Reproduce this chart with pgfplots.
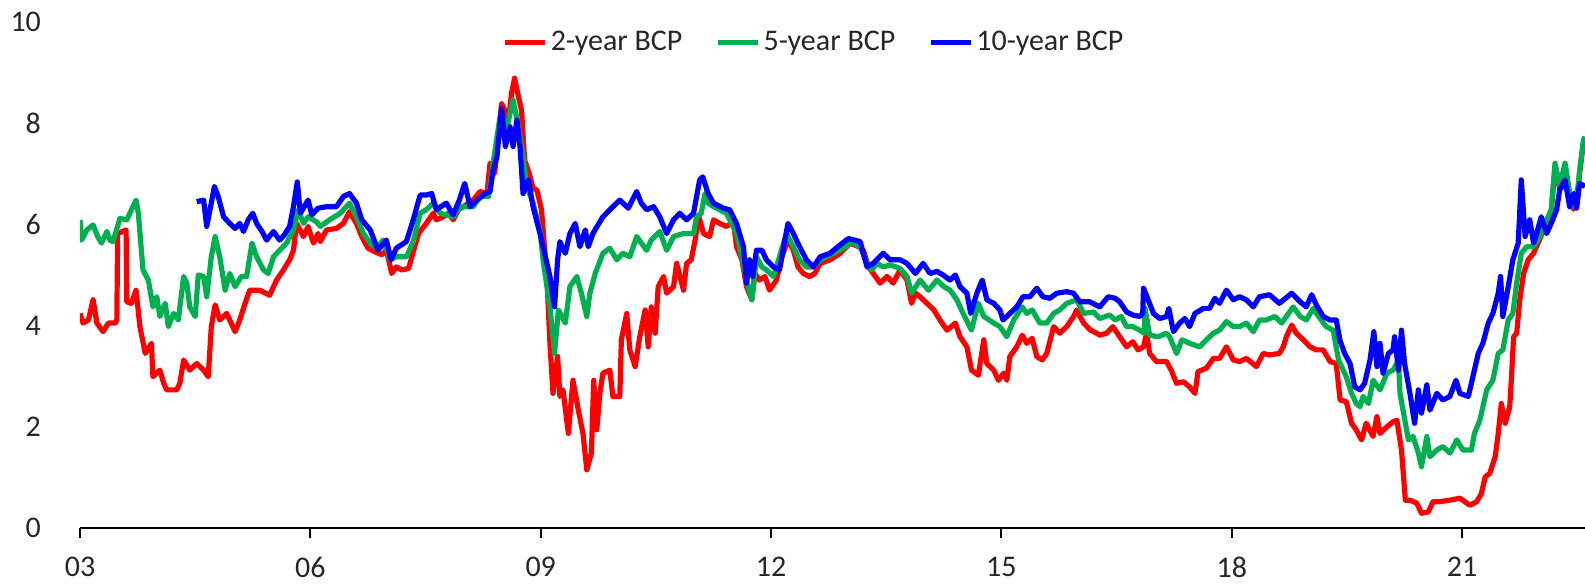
\documentclass[border=0pt]{standalone}
\usepackage{fontspec}
\setmainfont{Carlito}
\usepackage{pgfplots}
\pgfplotsset{compat=1.18}
\definecolor{cred}{RGB}{255,0,0}
\definecolor{cgreen}{RGB}{0,176,80}
\definecolor{cblue}{RGB}{0,0,255}
\begin{document}
\begin{tikzpicture}
\begin{axis}[
 name=ax,
 scale only axis,
 width=752.5pt, height=253pt,
 xmin=2003, xmax=2022.6, ymin=0, ymax=10,
 axis lines*=left,
 axis line style={-},
 y axis line style={draw=none},
 x axis line style={line width=1pt, black},
 xtick={2003,2006,2009,2012,2015,2018,2021},
 xticklabels={03,06,09,12,15,18,21},
 ytick={0,2,4,6,8,10},
 tick align=outside,
 major tick length=5pt,
 xtick style={line width=1pt, black},
 ytick style={draw=none},
 tick label style={font=\fontsize{15}{18}\selectfont, text=black!85},
 /pgf/number format/assume math mode=true,
 yticklabel style={xshift=-11pt},
 xticklabel style={yshift=-6pt},
 legend style={draw=none, fill=none, at={(0.488,0.96)}, anchor=center, legend columns=3,
   font=\fontsize{15}{18}\selectfont, text=black!85, nodes={inner sep=1.5pt},
   /tikz/every even column/.append style={column sep=15pt}},
 legend image code/.code={\draw[#1] (0pt,0pt) -- (20pt,0pt);},
 every axis plot/.append style={line width=2.6pt, line join=round},
]
\addplot[cred] table {
2003.00 4.24
2003.04 4.05
2003.11 4.11
2003.17 4.51
2003.22 4.05
2003.30 3.88
2003.37 4.05
2003.46 4.05
2003.48 4.11
2003.49 5.82
2003.60 5.89
2003.61 4.47
2003.67 4.44
2003.73 4.70
2003.78 3.98
2003.85 3.45
2003.93 3.65
2003.95 2.99
2004.04 3.12
2004.09 2.86
2004.13 2.73
2004.26 2.73
2004.30 2.86
2004.35 3.32
2004.43 3.12
2004.52 3.25
2004.61 3.12
2004.67 2.99
2004.71 3.98
2004.76 4.41
2004.82 4.11
2004.91 4.24
2005.02 3.88
2005.08 4.11
2005.15 4.44
2005.21 4.70
2005.34 4.70
2005.47 4.60
2005.56 4.90
2005.65 5.10
2005.73 5.30
2005.78 5.49
2005.82 6.02
2005.91 5.76
2005.97 5.96
2006.04 5.63
2006.10 5.82
2006.13 5.66
2006.21 5.89
2006.34 5.92
2006.43 6.02
2006.51 6.25
2006.60 6.02
2006.67 5.76
2006.75 5.53
2006.84 5.46
2006.93 5.40
2006.99 5.49
2007.06 5.03
2007.12 5.16
2007.19 5.10
2007.28 5.13
2007.34 5.46
2007.41 5.82
2007.51 6.02
2007.60 6.22
2007.64 6.09
2007.73 6.15
2007.80 6.22
2007.86 6.09
2007.93 6.29
2007.99 6.35
2008.12 6.48
2008.21 6.65
2008.30 6.61
2008.34 7.21
2008.40 7.01
2008.49 8.39
2008.53 8.26
2008.58 8.06
2008.62 8.59
2008.66 8.89
2008.71 8.52
2008.75 8.26
2008.79 7.27
2008.85 7.01
2008.90 6.71
2008.95 6.68
2009.01 6.29
2009.08 4.97
2009.12 3.65
2009.16 2.66
2009.22 3.39
2009.25 2.60
2009.29 2.73
2009.36 1.87
2009.42 2.92
2009.49 2.33
2009.55 1.87
2009.60 1.15
2009.66 1.48
2009.69 2.92
2009.73 1.94
2009.77 2.66
2009.81 3.06
2009.90 3.12
2009.94 2.60
2010.03 2.60
2010.05 3.72
2010.12 4.24
2010.16 3.52
2010.23 3.19
2010.29 3.78
2010.36 4.31
2010.40 3.58
2010.44 4.37
2010.49 3.85
2010.53 4.77
2010.60 4.97
2010.64 4.64
2010.73 4.77
2010.77 5.23
2010.86 4.70
2010.90 5.23
2010.96 5.30
2011.01 5.69
2011.06 6.15
2011.12 5.82
2011.20 5.76
2011.25 6.09
2011.33 6.02
2011.42 5.96
2011.51 6.05
2011.55 5.56
2011.62 5.30
2011.68 4.77
2011.75 4.51
2011.79 5.03
2011.85 4.90
2011.92 4.97
2011.98 4.70
2012.07 4.90
2012.14 5.36
2012.22 5.69
2012.29 5.49
2012.35 5.16
2012.42 5.03
2012.50 4.97
2012.57 5.03
2012.64 5.23
2012.77 5.30
2012.90 5.43
2013.03 5.63
2013.14 5.56
2013.20 5.49
2013.27 5.16
2013.33 5.03
2013.42 4.84
2013.51 4.97
2013.59 4.84
2013.68 5.10
2013.77 4.90
2013.83 4.44
2013.88 4.64
2013.94 4.57
2014.03 4.44
2014.12 4.31
2014.20 4.11
2014.29 3.91
2014.40 4.05
2014.46 3.78
2014.55 3.58
2014.61 3.12
2014.70 3.02
2014.77 3.72
2014.81 3.25
2014.90 3.12
2014.96 2.92
2015.03 3.06
2015.07 2.92
2015.11 3.39
2015.20 3.58
2015.27 3.81
2015.33 3.65
2015.40 3.75
2015.46 3.39
2015.53 3.32
2015.59 3.45
2015.68 3.98
2015.76 3.85
2015.85 3.98
2015.94 4.18
2015.98 4.31
2016.07 4.05
2016.16 3.91
2016.24 3.85
2016.28 3.81
2016.37 3.85
2016.45 3.98
2016.54 3.78
2016.63 3.58
2016.71 3.68
2016.78 3.52
2016.85 3.58
2016.89 3.85
2016.93 3.45
2017.02 3.29
2017.15 3.29
2017.21 3.12
2017.28 2.86
2017.37 2.89
2017.45 2.79
2017.52 2.66
2017.56 3.09
2017.67 3.16
2017.76 3.35
2017.84 3.35
2017.93 3.58
2018.02 3.32
2018.10 3.29
2018.19 3.35
2018.32 3.19
2018.41 3.45
2018.49 3.42
2018.62 3.45
2018.67 3.58
2018.71 3.78
2018.78 4.01
2018.84 3.85
2018.93 3.72
2019.02 3.58
2019.10 3.52
2019.19 3.52
2019.28 3.29
2019.36 3.25
2019.41 2.53
2019.49 2.50
2019.56 2.07
2019.62 1.94
2019.69 1.74
2019.75 2.07
2019.84 1.81
2019.89 2.20
2019.93 1.87
2020.02 2.00
2020.10 2.10
2020.15 2.13
2020.21 1.54
2020.26 0.55
2020.32 0.55
2020.41 0.49
2020.47 0.29
2020.56 0.32
2020.62 0.52
2020.71 0.52
2020.84 0.55
2020.97 0.59
2021.10 0.45
2021.19 0.52
2021.25 0.68
2021.30 1.01
2021.36 1.08
2021.43 1.41
2021.47 1.87
2021.51 2.46
2021.56 2.07
2021.62 2.40
2021.64 2.92
2021.67 3.78
2021.71 3.85
2021.75 4.51
2021.80 5.03
2021.86 5.30
2021.93 5.43
2022.01 5.71
2022.10 6.04
2022.16 6.24
2022.21 7.16
2022.27 6.70
2022.34 7.16
2022.40 6.56
2022.45 6.30
2022.51 6.70
2022.53 7.02
2022.58 7.62
2022.60 7.68
};
\addlegendentry{2-year BCP}
\addplot[cgreen] table {
2003.00 6.09
2003.02 5.69
2003.09 5.89
2003.17 5.99
2003.23 5.76
2003.28 5.63
2003.35 5.86
2003.39 5.69
2003.43 5.66
2003.52 6.12
2003.61 6.09
2003.67 6.29
2003.73 6.48
2003.76 6.22
2003.82 5.10
2003.89 4.90
2003.95 4.37
2004.00 4.57
2004.04 4.18
2004.11 4.44
2004.15 3.98
2004.22 4.24
2004.28 4.11
2004.35 4.97
2004.39 4.84
2004.43 4.37
2004.50 4.18
2004.54 5.00
2004.61 4.97
2004.65 4.57
2004.71 5.36
2004.76 5.76
2004.82 5.36
2004.89 4.70
2004.95 5.03
2005.02 4.77
2005.10 4.97
2005.17 4.97
2005.24 5.63
2005.30 5.36
2005.39 5.10
2005.45 5.03
2005.52 5.36
2005.60 5.49
2005.69 5.63
2005.78 5.89
2005.84 6.29
2005.91 6.02
2005.97 6.15
2006.08 6.05
2006.13 5.96
2006.25 6.09
2006.39 6.22
2006.51 6.42
2006.60 6.15
2006.69 5.82
2006.78 5.63
2006.86 5.53
2006.95 5.69
2007.04 5.30
2007.12 5.36
2007.25 5.36
2007.34 5.66
2007.43 6.22
2007.51 6.29
2007.60 6.42
2007.69 6.22
2007.86 6.15
2007.95 6.35
2008.12 6.35
2008.21 6.55
2008.32 6.55
2008.38 7.21
2008.47 8.13
2008.56 7.93
2008.64 8.46
2008.71 7.93
2008.75 7.54
2008.82 6.75
2008.90 6.42
2008.99 5.89
2009.03 5.30
2009.12 4.37
2009.18 3.45
2009.23 4.31
2009.32 4.05
2009.38 4.77
2009.47 4.97
2009.53 4.64
2009.60 4.18
2009.64 4.64
2009.71 5.03
2009.81 5.43
2009.90 5.53
2009.99 5.30
2010.07 5.43
2010.16 5.36
2010.25 5.76
2010.31 5.63
2010.38 5.49
2010.44 5.69
2010.55 5.86
2010.64 5.49
2010.73 5.76
2010.86 5.82
2010.99 5.82
2011.03 6.15
2011.09 6.22
2011.14 6.61
2011.18 6.42
2011.25 6.35
2011.42 6.22
2011.55 5.82
2011.62 5.36
2011.68 4.90
2011.75 4.51
2011.81 5.36
2011.88 5.16
2011.94 5.10
2012.03 4.97
2012.11 5.36
2012.20 5.82
2012.29 5.56
2012.37 5.30
2012.46 5.16
2012.55 5.16
2012.64 5.30
2012.81 5.43
2012.98 5.56
2013.03 5.66
2013.16 5.56
2013.25 5.23
2013.31 5.10
2013.38 5.23
2013.46 5.16
2013.55 5.20
2013.68 5.13
2013.77 4.97
2013.83 4.64
2013.94 4.90
2014.05 4.70
2014.16 4.90
2014.25 4.77
2014.33 4.70
2014.42 4.51
2014.50 4.24
2014.61 3.91
2014.70 4.44
2014.77 4.18
2014.90 4.05
2014.98 3.98
2015.07 3.78
2015.16 4.11
2015.27 4.37
2015.33 4.24
2015.40 4.31
2015.50 4.05
2015.59 4.05
2015.68 4.24
2015.76 4.31
2015.85 4.44
2015.98 4.51
2016.07 4.24
2016.20 4.27
2016.28 4.14
2016.41 4.21
2016.48 4.11
2016.56 4.18
2016.63 3.98
2016.71 3.98
2016.80 3.91
2016.86 3.85
2016.87 4.34
2016.93 3.81
2017.04 3.78
2017.15 3.85
2017.19 3.78
2017.28 3.45
2017.35 3.72
2017.45 3.65
2017.58 3.58
2017.67 3.72
2017.76 3.85
2017.84 3.91
2017.93 4.08
2018.02 3.98
2018.10 3.98
2018.19 4.05
2018.28 3.88
2018.36 4.11
2018.45 4.11
2018.56 4.18
2018.65 4.05
2018.71 4.18
2018.80 4.37
2018.89 4.18
2018.97 4.11
2019.06 4.34
2019.15 4.14
2019.23 3.98
2019.32 3.91
2019.39 3.32
2019.49 2.99
2019.56 2.66
2019.62 2.46
2019.67 2.40
2019.71 2.60
2019.78 2.46
2019.84 2.92
2019.93 2.73
2020.02 3.06
2020.10 3.12
2020.17 3.32
2020.19 2.66
2020.23 2.33
2020.30 1.74
2020.36 1.81
2020.43 1.48
2020.47 1.21
2020.54 1.81
2020.58 1.41
2020.67 1.54
2020.75 1.61
2020.84 1.48
2020.93 1.74
2021.01 1.54
2021.12 1.54
2021.16 1.87
2021.23 2.13
2021.32 2.73
2021.40 2.92
2021.47 3.45
2021.53 3.52
2021.60 4.11
2021.66 4.24
2021.71 4.84
2021.77 5.43
2021.84 5.56
2021.93 5.56
2022.01 5.76
2022.10 6.09
2022.16 6.29
2022.21 7.21
2022.27 6.75
2022.34 7.21
2022.40 6.61
2022.45 6.35
2022.51 6.75
2022.53 7.07
2022.58 7.67
2022.60 7.73
};
\addlegendentry{5-year BCP}
\addplot[cblue] table {
2004.52 6.45
2004.61 6.48
2004.65 5.96
2004.71 6.42
2004.75 6.75
2004.80 6.55
2004.87 6.15
2004.95 6.02
2005.02 5.92
2005.08 6.02
2005.13 5.86
2005.19 6.09
2005.25 6.22
2005.30 6.02
2005.37 5.86
2005.43 5.69
2005.52 5.86
2005.60 5.69
2005.66 5.79
2005.73 5.96
2005.78 6.35
2005.83 6.84
2005.87 6.22
2005.97 6.48
2006.02 6.19
2006.10 6.32
2006.21 6.35
2006.34 6.35
2006.43 6.55
2006.51 6.61
2006.60 6.42
2006.67 6.09
2006.78 5.89
2006.88 5.49
2006.99 5.69
2007.05 5.30
2007.12 5.53
2007.25 5.66
2007.34 6.09
2007.43 6.58
2007.51 6.58
2007.58 6.61
2007.64 6.29
2007.77 6.42
2007.86 6.19
2007.94 6.48
2008.01 6.81
2008.08 6.35
2008.17 6.48
2008.25 6.58
2008.34 6.65
2008.38 7.07
2008.43 7.34
2008.49 8.29
2008.54 7.54
2008.60 7.93
2008.64 7.54
2008.69 8.06
2008.73 7.54
2008.77 6.61
2008.84 6.88
2008.90 6.35
2008.99 5.82
2009.05 5.43
2009.12 4.97
2009.18 4.37
2009.22 5.30
2009.25 5.66
2009.32 5.43
2009.38 5.82
2009.45 6.02
2009.51 5.56
2009.58 5.89
2009.62 5.56
2009.68 5.82
2009.77 6.05
2009.81 6.15
2009.94 6.35
2010.03 6.48
2010.14 6.32
2010.25 6.65
2010.31 6.42
2010.38 6.29
2010.47 6.35
2010.55 6.15
2010.64 5.82
2010.73 6.09
2010.81 6.22
2010.90 6.09
2010.99 6.22
2011.07 6.88
2011.11 6.94
2011.18 6.61
2011.25 6.42
2011.38 6.32
2011.46 6.29
2011.55 6.02
2011.64 5.56
2011.68 4.84
2011.72 5.30
2011.76 4.97
2011.81 5.49
2011.88 5.49
2011.94 5.30
2012.03 5.16
2012.11 5.10
2012.18 5.69
2012.22 6.02
2012.29 5.82
2012.37 5.56
2012.46 5.30
2012.55 5.16
2012.64 5.36
2012.77 5.43
2012.87 5.56
2012.98 5.69
2013.01 5.72
2013.16 5.66
2013.25 5.16
2013.33 5.23
2013.46 5.43
2013.55 5.30
2013.68 5.30
2013.77 5.23
2013.88 5.03
2013.98 5.23
2014.07 5.03
2014.16 5.07
2014.24 5.00
2014.33 4.90
2014.40 5.00
2014.46 4.77
2014.55 4.64
2014.60 4.24
2014.68 4.64
2014.75 4.90
2014.81 4.51
2014.90 4.44
2014.98 4.31
2015.02 4.11
2015.11 4.24
2015.20 4.37
2015.28 4.57
2015.37 4.57
2015.46 4.74
2015.54 4.57
2015.63 4.54
2015.72 4.64
2015.85 4.67
2015.94 4.64
2016.02 4.47
2016.15 4.47
2016.28 4.37
2016.39 4.57
2016.48 4.54
2016.54 4.47
2016.63 4.27
2016.71 4.21
2016.80 4.18
2016.84 4.24
2016.85 4.74
2016.91 4.51
2016.98 4.24
2017.06 4.14
2017.15 4.18
2017.18 4.34
2017.24 3.88
2017.32 4.05
2017.39 4.14
2017.45 3.98
2017.52 4.24
2017.63 4.34
2017.71 4.34
2017.78 4.54
2017.84 4.44
2017.93 4.70
2018.02 4.51
2018.10 4.57
2018.19 4.51
2018.28 4.37
2018.36 4.57
2018.49 4.61
2018.62 4.44
2018.78 4.64
2018.89 4.47
2018.97 4.37
2019.04 4.61
2019.10 4.41
2019.19 4.18
2019.28 4.11
2019.36 4.11
2019.41 3.70
2019.47 3.45
2019.54 3.25
2019.60 2.79
2019.67 2.73
2019.73 2.86
2019.80 3.32
2019.85 3.88
2019.89 3.19
2019.93 3.65
2019.97 3.06
2020.04 3.45
2020.10 3.52
2020.12 3.78
2020.17 3.12
2020.21 3.91
2020.25 3.25
2020.32 2.66
2020.38 2.07
2020.43 2.73
2020.47 2.27
2020.54 2.83
2020.58 2.33
2020.67 2.66
2020.75 2.53
2020.84 2.60
2020.92 2.92
2020.97 2.66
2021.08 2.60
2021.14 2.99
2021.21 3.45
2021.27 3.65
2021.34 4.05
2021.40 4.24
2021.47 4.64
2021.50 4.97
2021.53 4.18
2021.60 4.77
2021.66 5.30
2021.73 5.63
2021.77 6.88
2021.82 5.76
2021.88 6.09
2021.93 5.63
2021.97 5.82
2022.03 6.15
2022.10 5.82
2022.16 6.02
2022.23 6.29
2022.27 6.68
2022.34 6.88
2022.40 6.35
2022.45 6.61
2022.49 6.32
2022.53 6.81
2022.60 6.75
};
\addlegendentry{10-year BCP}
\end{axis}
\pgfresetboundingbox
\path ([xshift=-40pt,yshift=-27.5pt]ax.south west) rectangle ([yshift=11pt]ax.north east);
\end{tikzpicture}
\end{document}
